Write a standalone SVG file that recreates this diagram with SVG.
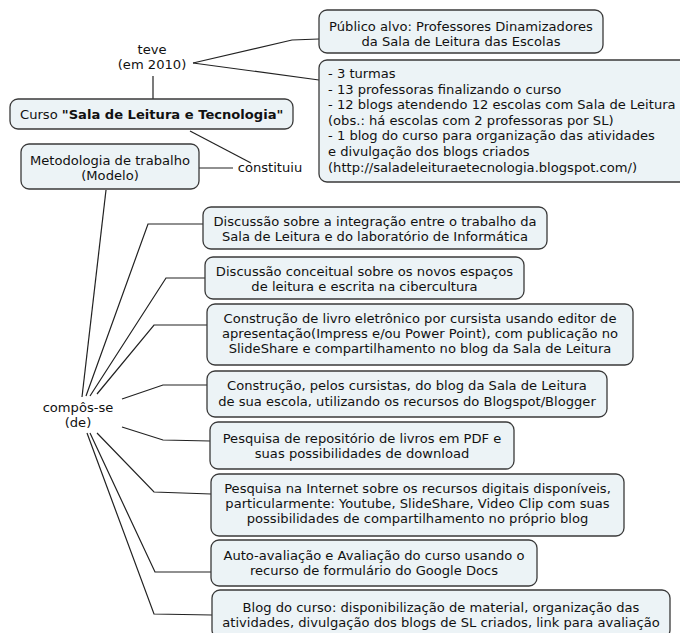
<svg xmlns="http://www.w3.org/2000/svg" width="680" height="633" viewBox="0 0 680 633">
<style>
.box{fill:#ecf3f6;stroke:#3a3a3a;stroke-width:1.3}
text{font-family:"DejaVu Sans",Verdana,sans-serif;font-size:13.1px;fill:#111}
.c{text-anchor:middle}
.ln{fill:none;stroke:#222;stroke-width:1.2}
</style>
<rect width="680" height="633" fill="#fff"/>
<g id="connectors">
<polyline class="ln" points="193,63 292,40 319,39"/>
<polyline class="ln" points="193,63 319,80"/>
<line class="ln" x1="153" y1="76" x2="153" y2="99"/>
<line class="ln" x1="190" y1="131" x2="251" y2="163"/>
<line class="ln" x1="199" y1="168" x2="233" y2="168"/>
<line class="ln" x1="106" y1="190" x2="82" y2="397"/>
<polyline class="ln" points="86,396 148,224 203,224"/>
<polyline class="ln" points="90,396 166,278 205,278"/>
<polyline class="ln" points="97,394 154,325 207,325"/>
<polyline class="ln" points="122,399 163,385 207,385"/>
<polyline class="ln" points="122,427 163,440 210,441"/>
<polyline class="ln" points="97,433 154,492 211,494"/>
<polyline class="ln" points="90,433 155,572 211,572"/>
<polyline class="ln" points="87,433 154,614 212,615"/>
</g>
<g id="teve"><text class="c" x="152" y="54">teve</text><text class="c" x="152" y="69">(em 2010)</text></g>
<g id="constituiu"><text class="c" x="270" y="172">constituiu</text></g>
<g id="compos"><text class="c" x="78" y="412">compôs-se</text><text class="c" x="78" y="427">(de)</text></g>
<g id="publico"><rect class="box" x="319" y="10" width="284" height="43" rx="8"/>
<text class="c" x="461" y="30.5">Público alvo: Professores Dinamizadores</text>
<text class="c" x="461" y="45.5">da Sala de Leitura das Escolas</text></g>
<g id="stats"><rect class="box" x="319" y="60" width="380" height="122" rx="8"/>
<g style="font-size:13.4px">
<text x="328" y="78">- 3 turmas</text>
<text x="328" y="93.6">- 13 professoras finalizando o curso</text>
<text x="328" y="109.2">- 12 blogs atendendo 12 escolas com Sala de Leitura</text>
<text x="328" y="124.8">(obs.: há escolas com 2 professoras por SL)</text>
<text x="328" y="140.4">- 1 blog do curso para organização das atividades</text>
<text x="328" y="156">e divulgação dos blogs criados</text>
<text x="328" y="171.6">(http://saladeleituraetecnologia.blogspot.com/)</text></g></g>
<g id="curso"><rect class="box" x="10" y="99" width="283" height="30" rx="8"/>
<text x="20" y="119">Curso <tspan font-weight="bold">"Sala de Leitura e Tecnologia"</tspan></text></g>
<g id="metodologia"><rect class="box" x="21" y="144" width="178" height="45" rx="8"/>
<text class="c" x="110" y="164.5">Metodologia de trabalho</text>
<text class="c" x="110" y="179.5">(Modelo)</text></g>
<g id="n1"><rect class="box" x="203" y="207" width="344" height="42" rx="8"/>
<text class="c" x="375" y="225.5">Discussão sobre a integração entre o trabalho da</text>
<text class="c" x="375" y="240.5">Sala de Leitura e do laboratório de Informática</text></g>
<g id="n2"><rect class="box" x="205" y="257" width="319" height="42" rx="8"/>
<text class="c" x="364.5" y="275.5">Discussão conceitual sobre os novos espaços</text>
<text class="c" x="364.5" y="290.5">de leitura e escrita na cibercultura</text></g>
<g id="n3"><rect class="box" x="207" y="304" width="426" height="61" rx="8"/>
<text class="c" x="420" y="322.5">Construção de livro eletrônico por cursista usando editor de</text>
<text class="c" x="420" y="337.5">apresentação(Impress e/ou Power Point), com publicação no</text>
<text class="c" x="420" y="352.5">SlideShare e compartilhamento no blog da Sala de Leitura</text></g>
<g id="n4"><rect class="box" x="207" y="371" width="400" height="46" rx="8"/>
<text class="c" x="407" y="389.5">Construção, pelos cursistas, do blog da Sala de Leitura</text>
<text class="c" x="407" y="405.5">de sua escola, utilizando os recursos do Blogspot/Blogger</text></g>
<g id="n5"><rect class="box" x="210" y="422" width="304" height="47" rx="8"/>
<text class="c" x="362" y="442.5">Pesquisa de repositório de livros em PDF e</text>
<text class="c" x="362" y="457.5">suas possibilidades de download</text></g>
<g id="n6"><rect class="box" x="211" y="474" width="413" height="62" rx="8"/>
<text class="c" x="417.5" y="492.5">Pesquisa na Internet sobre os recursos digitais disponíveis,</text>
<text class="c" x="417.5" y="507.5">particularmente: Youtube, SlideShare, Video Clip com suas</text>
<text class="c" x="417.5" y="522.5">possibilidades de compartilhamento no próprio blog</text></g>
<g id="n7"><rect class="box" x="211" y="540" width="326" height="46" rx="8"/>
<text class="c" x="374" y="559.5">Auto-avaliação e Avaliação do curso usando o</text>
<text class="c" x="374" y="575">recurso de formulário do Google Docs</text></g>
<g id="n8"><rect class="box" x="212" y="590" width="458" height="48" rx="8"/>
<text class="c" x="441" y="611.5">Blog do curso: disponibilização de material, organização das</text>
<text class="c" x="441" y="627">atividades, divulgação dos blogs de SL criados, link para avaliação</text></g>
</svg>
